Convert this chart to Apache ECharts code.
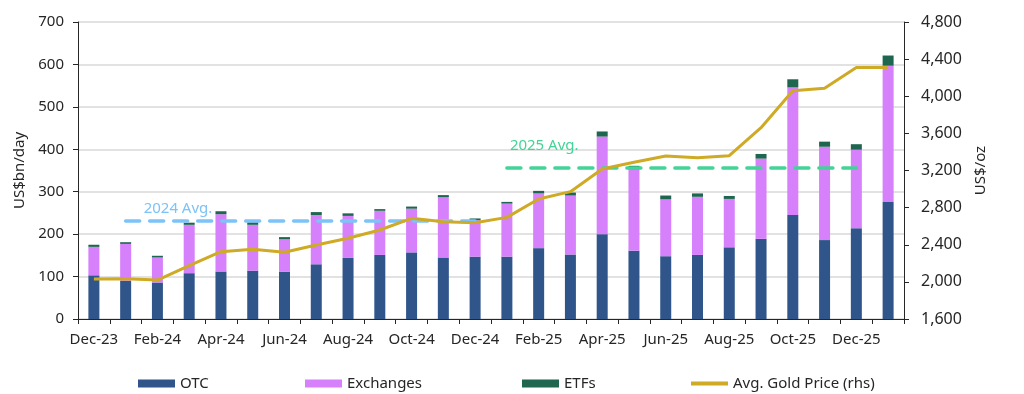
<!DOCTYPE html>
<html><head><meta charset="utf-8">
<script src="https://cdn.jsdelivr.net/npm/echarts@6/dist/echarts.min.js"></script>
<style>html,body{margin:0;padding:0;background:#fff}#c{width:1024px;height:394px}</style>
</head><body><div id="c"></div>
<script>
const categories = ["Dec-23","Jan-24","Feb-24","Mar-24","Apr-24","May-24","Jun-24","Jul-24","Aug-24","Sep-24","Oct-24","Nov-24","Dec-24","Jan-25","Feb-25","Mar-25","Apr-25","May-25","Jun-25","Jul-25","Aug-25","Sep-25","Oct-25","Nov-25","Dec-25","Jan-26"];
const otc = [103,90,86,108,112,114,111,129,144,151,157,145,147,147,167,152,200,161,148,151,169,189,245,186,214,276];
const exchanges = [67,87,59,114,135,108,77,116,99,104,103,142,86,125,129,139,230,192,134,137,114,189,301,220,185,321];
const etfs = [5,4,4,5,7,6,5,7,6,4,5,5,4,4,6,7,12,8,9,8,7,11,19,12,13,24];
const goldPrice = [2031,2034,2020,2174,2325,2351,2319,2397,2470,2559,2685,2648,2638,2695,2893,2972,3216,3288,3356,3338,3360,3661,4060,4087,4311,4311];
const avg2024 = {label:"2024 Avg.", value:232, from:"Jan-24", to:"Dec-24"};
const avg2025 = {label:"2025 Avg.", value:357, from:"Jan-25", to:"Dec-25"};
const leftTicks = {min:0, max:700, interval:100};
const rightTicks = {min:1600, max:4800, interval:400};

const FONT = "Noto Sans";
const chart = echarts.init(document.getElementById('c'));
const txt = {fontFamily: FONT, fontSize: 15, color: '#262626'};
function avgSeries(a, color, dist){
  return {
    name: a.label, type: 'line', data: [], yAxisIndex: 0, silent: true, z: 4,
    markLine: {
      silent: true, symbol: 'none', animation: false,
      lineStyle: {color: color, width: 3.5, type: [14, 10], cap: 'round'},
      label: {show: true, position: 'insideStartTop', formatter: a.label, color: color, fontFamily: FONT, fontSize: 15, distance: dist},
      data: [[{coord: [a.from, a.value]}, {coord: [a.to, a.value]}]]
    }
  };
}
const legendBase = {orient:'horizontal', top: 371, itemWidth: 37, itemHeight: 8, itemGap: 0, textStyle: {fontFamily: FONT, fontSize: 15, color: '#262626', padding:[0,0,2,0]}, selectedMode:false};
chart.setOption({
  animation: false,
  grid: {left: 78, right: 120, top: 22, bottom: 75},
  legend: [
    Object.assign({}, legendBase, {left: 133, data: [{name:'OTC', icon:'rect'}]}),
    Object.assign({}, legendBase, {left: 300, data: [{name:'Exchanges', icon:'rect'}]}),
    Object.assign({}, legendBase, {left: 517, data: [{name:'ETFs', icon:'rect'}]}),
    Object.assign({}, legendBase, {left: 686, itemHeight: 4, data: [{name:'Avg. Gold Price (rhs)', icon:'rect'}]})
  ],
  xAxis: {
    type: 'category', data: categories, boundaryGap: true,
    axisLine: {lineStyle: {color: '#262626', width: 1}},
    axisTick: {show: true, interval: 0, length: 5, lineStyle: {color: '#262626'}},
    axisLabel: Object.assign({interval: 1, margin: 13}, txt)
  },
  yAxis: [
    {type: 'value', min: leftTicks.min, max: leftTicks.max, interval: leftTicks.interval,
     name: 'US$bn/day', nameLocation: 'middle', nameGap: 48, nameRotate: 90,
     nameTextStyle: {fontFamily: FONT, fontSize: 15, color: '#262626'},
     axisLine: {show: true, lineStyle: {color: '#262626'}},
     axisTick: {show: true, length: 5, lineStyle: {color: '#262626'}},
     axisLabel: Object.assign({margin: 14}, txt),
     splitLine: {show: true, lineStyle: {color: '#d9d9d9', width: 1.5}}},
    {type: 'value', min: rightTicks.min, max: rightTicks.max, interval: rightTicks.interval, position: 'right',
     name: 'US$/oz', nameLocation: 'middle', nameGap: 64, nameRotate: 90,
     nameTextStyle: {fontFamily: FONT, fontSize: 15, color: '#262626'},
     axisLine: {show: true, lineStyle: {color: '#262626'}},
     axisTick: {show: true, length: 5, lineStyle: {color: '#262626'}},
     axisLabel: Object.assign({margin: 17, formatter: v => v.toLocaleString('en-US')}, txt, {fontSize: 16}),
     splitLine: {show: false}}
  ],
  series: [
    {name: 'OTC', type: 'bar', stack: 'v', data: otc, barWidth: 11, itemStyle: {color: '#30558b'}},
    {name: 'Exchanges', type: 'bar', stack: 'v', data: exchanges, barWidth: 11, itemStyle: {color: '#d680fb'}},
    {name: 'ETFs', type: 'bar', stack: 'v', data: etfs, barWidth: 11, itemStyle: {color: '#1f6650'}},
    avgSeries(avg2024, '#7cc3f7', [18, 4]),
    avgSeries(avg2025, '#42d496', [3, 14]),
    {name: 'Avg. Gold Price (rhs)', type: 'line', yAxisIndex: 1, data: goldPrice, symbol: 'none',
     lineStyle: {color: '#cfaa25', width: 3}, itemStyle: {color: '#cfaa25'}, z: 5}
  ]
});
</script></body></html>
